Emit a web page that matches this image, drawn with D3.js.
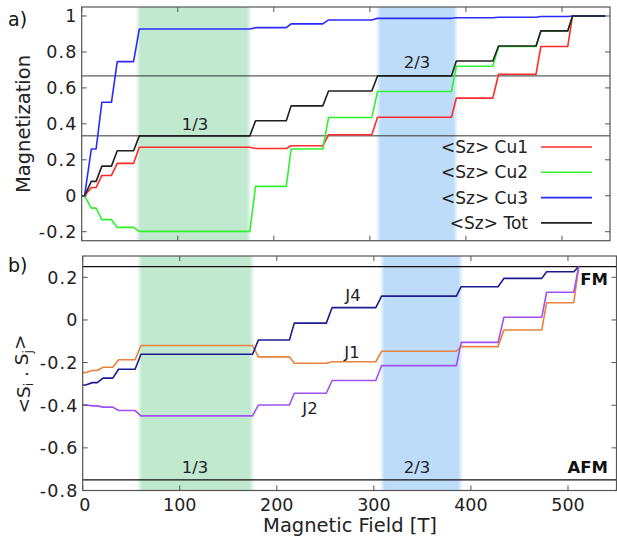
<!DOCTYPE html>
<html>
<head>
<meta charset="utf-8">
<script src="https://cdn.jsdelivr.net/npm/d3@7/dist/d3.min.js"></script>
<style>
  html, body { margin: 0; padding: 0; background: #fff; }
  svg { display: block; font-family: "DejaVu Sans", Verdana, sans-serif; }
</style>
</head>
<body>
<svg id="chart" width="617" height="536"></svg>
<script>
// ---------------- data ----------------
const field = [0, 3, 10, 15, 21, 31, 37, 54, 60, 175, 181, 213, 218, 251, 257, 302, 308, 385, 390, 428, 434, 473, 478, 506, 511, 545];

const cu1 = [0, 0, 0.046, 0.046, 0.113, 0.113, 0.18, 0.18, 0.27, 0.27, 0.263, 0.263, 0.278, 0.278, 0.339, 0.339, 0.437, 0.437, 0.543, 0.543, 0.676, 0.676, 0.83, 0.83, 1.0, 1.0];
const cu2 = [0, 0, -0.069, -0.069, -0.133, -0.133, -0.176, -0.176, -0.198, -0.198, 0.052, 0.052, 0.26, 0.26, 0.435, 0.435, 0.58, 0.58, 0.72, 0.72, 0.83, 0.83, 0.917, 0.917, 1.0, 1.0];
const cu3 = [0, 0, 0.26, 0.26, 0.52, 0.52, 0.746, 0.746, 0.928, 0.928, 0.935, 0.935, 0.956, 0.956, 0.978, 0.978, 0.987, 0.987, 0.99, 0.99, 0.993, 0.993, 0.997, 0.997, 1.0, 1.0];
const tot = [0, 0, 0.08, 0.08, 0.165, 0.165, 0.25, 0.25, 0.333, 0.333, 0.417, 0.417, 0.5, 0.5, 0.583, 0.583, 0.667, 0.667, 0.75, 0.75, 0.833, 0.833, 0.917, 0.917, 1.0, 1.0];

const j1 = [-0.247, -0.247, -0.237, -0.237, -0.222, -0.222, -0.187, -0.187, -0.120, -0.120, -0.173, -0.173, -0.203, -0.203, -0.196, -0.196, -0.147, -0.147, -0.125, -0.125, -0.047, -0.047, 0.081, 0.081, 0.25];
const j4 = [-0.305, -0.305, -0.294, -0.294, -0.273, -0.273, -0.231, -0.231, -0.161, -0.161, -0.094, -0.094, -0.015, -0.015, 0.058, 0.058, 0.112, 0.112, 0.156, 0.156, 0.195, 0.195, 0.226, 0.226, 0.25];
const j2 = [-0.398, -0.398, -0.403, -0.403, -0.409, -0.409, -0.425, -0.425, -0.450, -0.450, -0.399, -0.399, -0.344, -0.344, -0.284, -0.284, -0.214, -0.214, -0.105, -0.105, 0.013, 0.013, 0.130, 0.130, 0.25];

const topSeriesNames = ["<Sz> Cu1", "<Sz> Cu2", "<Sz> Cu3", "<Sz> Tot"];
const topSeriesColors = ["#ff2a2a", "#2ef22e", "#2a2aff", "#202020"];
const bottomSeriesNames = ["J1", "J4", "J2"];
const bottomSeriesColors = ["#e8823c", "#1c1c8e", "#a050f5"];

const plateauStart = [56, 306];
const plateauEnd = [177, 392];
const plateauLabel = ["1/3", "2/3"];
const plateauColor = ["#c0e9cf", "#bcdcf9"];

const fractionLines = [1 / 3, 2 / 3];
const refLines = [0.25, -0.75];
const refLabels = ["FM", "AFM"];

const xTicks = [0, 100, 200, 300, 400, 500];
const yTicksTop = [-0.2, 0, 0.2, 0.4, 0.6, 0.8, 1];
const yTicksBottom = [-0.8, -0.6, -0.4, -0.2, 0, 0.2];

// ---------------- layout ----------------
const svg = d3.select("#chart");
const defs = svg.append("defs");
const AX = "#555";

const xTop = d3.scaleLinear().domain([0, 550]).range([81.7, 610]);
const yTop = d3.scaleLinear().domain([-0.25, 1.05]).range([240.7, 7]);
const xBot = d3.scaleLinear().domain([0, 550]).range([82.7, 616.5]);
const yBot = d3.scaleLinear().domain([-0.8, 0.3]).range([490.5, 256]);

function fmt(v) {
  const r = Math.round(v * 10) / 10;
  return r === 0 ? "0" : String(r);
}

function shading(g, x, y, id) {
  plateauStart.forEach((s, i) => {
    const gid = id + "g" + i;
    const x0 = x(s), x1 = x(plateauEnd[i]);
    const w = x1 - x0;
    const f = 5 / w;
    const lg = defs.append("linearGradient").attr("id", gid)
      .attr("x1", 0).attr("x2", 1).attr("y1", 0).attr("y2", 0);
    [[0, 0], [f, 1], [1 - f, 1], [1, 0]].forEach(([o, a]) => {
      lg.append("stop").attr("offset", o).attr("stop-color", plateauColor[i]).attr("stop-opacity", a);
    });
    g.append("rect").attr("x", x0).attr("width", w)
      .attr("y", y.range()[1]).attr("height", y.range()[0] - y.range()[1])
      .attr("fill", `url(#${gid})`);
  });
}

function frame(g, x, y, yTicks, showX) {
  const [xl, xr] = x.range();
  const [yb, yt] = y.range();
  const t = 5;
  xTicks.forEach(v => {
    g.append("line").attr("x1", x(v)).attr("x2", x(v)).attr("y1", yb).attr("y2", yb - t).attr("stroke", AX);
    g.append("line").attr("x1", x(v)).attr("x2", x(v)).attr("y1", yt).attr("y2", yt + t).attr("stroke", AX);
  });
  yTicks.forEach(v => {
    g.append("line").attr("x1", xl).attr("x2", xl + t).attr("y1", y(v)).attr("y2", y(v)).attr("stroke", AX);
    g.append("line").attr("x1", xr).attr("x2", xr - t).attr("y1", y(v)).attr("y2", y(v)).attr("stroke", AX);
    g.append("text").attr("x", xl - 4).attr("y", y(v)).attr("dy", "0.36em")
      .attr("text-anchor", "end").attr("font-size", 17.5).attr("letter-spacing", 1.2)
      .attr("fill", "#222").text(fmt(v));
  });
  if (showX) {
    xTicks.forEach(v => {
      g.append("text").attr("x", x(v) + (v === 0 ? 2 : 0)).attr("y", yb + 14).attr("dy", "0.36em")
        .attr("text-anchor", "middle").attr("font-size", 17.5).attr("fill", "#222").text(v);
    });
  }
  g.append("rect").attr("x", xl).attr("y", yt).attr("width", xr - xl).attr("height", yb - yt)
    .attr("fill", "none").attr("stroke", AX).attr("stroke-width", 1.2);
}

// ---------------- top panel ----------------
const gTop = svg.append("g");
shading(gTop, xTop, yTop, "top");
fractionLines.forEach(v => {
  gTop.append("line").attr("x1", xTop.range()[0]).attr("x2", xTop.range()[1])
    .attr("y1", yTop(v)).attr("y2", yTop(v)).attr("stroke", "#333").attr("stroke-width", 1);
});
const lineTop = d3.line().x(d => xTop(d[0])).y(d => yTop(d[1]));
[cu1, cu2, cu3, tot].forEach((vals, i) => {
  gTop.append("path").datum(vals.map((v, k) => [field[k], v]))
    .attr("d", lineTop).attr("fill", "none").attr("stroke", topSeriesColors[i])
    .attr("stroke-width", 1.6).attr("stroke-linejoin", "round");
});
gTop.append("text").attr("x", 195).attr("y", 124).attr("dy", "0.36em").attr("text-anchor", "middle")
  .attr("font-size", 16.5).attr("fill", "#222").text(plateauLabel[0]);
gTop.append("text").attr("x", 417).attr("y", 62).attr("dy", "0.36em").attr("text-anchor", "middle")
  .attr("font-size", 16.5).attr("fill", "#222").text(plateauLabel[1]);
topSeriesNames.forEach((n, i) => {
  const ly = 147 + i * 25.3;
  gTop.append("text").attr("x", 528).attr("y", ly).attr("dy", "0.36em").attr("text-anchor", "end")
    .attr("font-size", 17).attr("fill", "#222").text(n);
  gTop.append("line").attr("x1", 541).attr("x2", 592).attr("y1", ly).attr("y2", ly)
    .attr("stroke", topSeriesColors[i]).attr("stroke-width", 1.6);
});
frame(gTop, xTop, yTop, yTicksTop, false);
svg.append("text").attr("transform", "translate(23,124) rotate(-90)").attr("text-anchor", "middle")
  .attr("dy", "0.36em").attr("font-size", 19.5).attr("fill", "#222").text("Magnetization");
svg.append("text").attr("x", 8).attr("y", 19).attr("dy", "0.36em").attr("font-size", 19).attr("fill", "#111").text("a)");

// ---------------- bottom panel ----------------
const gBot = svg.append("g");
shading(gBot, xBot, yBot, "bot");
refLines.forEach(v => {
  gBot.append("line").attr("x1", xBot.range()[0]).attr("x2", xBot.range()[1])
    .attr("y1", yBot(v)).attr("y2", yBot(v)).attr("stroke", "#111").attr("stroke-width", 1.4);
});
const lineBot = d3.line().x(d => xBot(d[0])).y(d => yBot(d[1]));
[j1, j4, j2].forEach((vals, i) => {
  gBot.append("path").datum(vals.map((v, k) => [field[k], v]))
    .attr("d", lineBot).attr("fill", "none").attr("stroke", bottomSeriesColors[i])
    .attr("stroke-width", 1.6).attr("stroke-linejoin", "round");
});
[[352, 351.7], [353, 295], [310, 408.3]].forEach(([lx, ly], i) => {
  gBot.append("text").attr("x", lx).attr("y", ly).attr("dy", "0.36em").attr("text-anchor", "middle")
    .attr("font-size", 16.5).attr("fill", "#222").text(bottomSeriesNames[i]);
});
gBot.append("text").attr("x", 608).attr("y", 279.5).attr("dy", "0.36em").attr("text-anchor", "end")
  .attr("font-size", 16.5).attr("font-weight", "bold").attr("fill", "#111").text(refLabels[0]);
gBot.append("text").attr("x", 608).attr("y", 467).attr("dy", "0.36em").attr("text-anchor", "end")
  .attr("font-size", 16.5).attr("font-weight", "bold").attr("fill", "#111").text(refLabels[1]);
gBot.append("text").attr("x", 195).attr("y", 467).attr("dy", "0.36em").attr("text-anchor", "middle")
  .attr("font-size", 16.5).attr("fill", "#222").text(plateauLabel[0]);
gBot.append("text").attr("x", 417).attr("y", 467).attr("dy", "0.36em").attr("text-anchor", "middle")
  .attr("font-size", 16.5).attr("fill", "#222").text(plateauLabel[1]);
frame(gBot, xBot, yBot, yTicksBottom, true);

svg.append("text").attr("x", 350).attr("y", 525).attr("dy", "0.36em").attr("text-anchor", "middle")
  .attr("font-size", 19.5).attr("fill", "#222").text("Magnetic Field [T]");
const yl = svg.append("text").attr("transform", "translate(23,374) rotate(-90)").attr("text-anchor", "middle")
  .attr("dy", "0.36em").attr("font-size", 18.5).attr("fill", "#222");
yl.append("tspan").text("<S");
yl.append("tspan").attr("font-size", 12.5).attr("dy", "0.3em").text("i");
yl.append("tspan").attr("dy", "-0.3em").text(" . S");
yl.append("tspan").attr("font-size", 12.5).attr("dy", "0.3em").text("j");
yl.append("tspan").attr("dy", "-0.3em").text(">");
svg.append("text").attr("x", 8).attr("y", 265).attr("dy", "0.36em").attr("font-size", 19).attr("fill", "#111").text("b)");
</script>
</body>
</html>
